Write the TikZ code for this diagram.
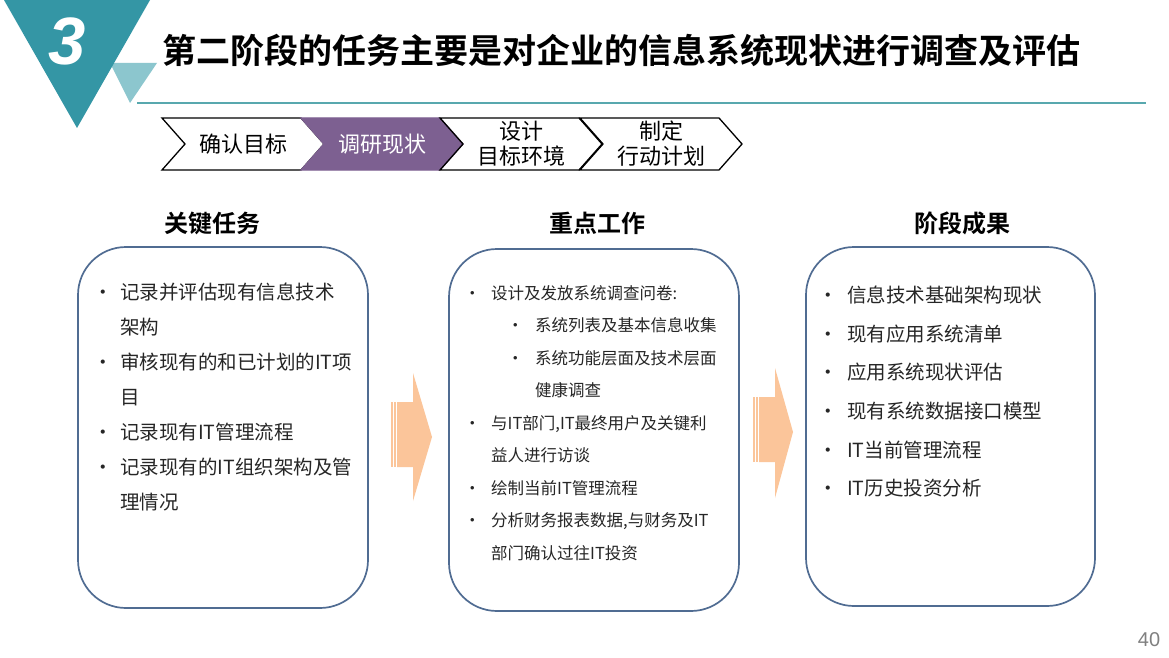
\documentclass[tikz,border=0pt]{standalone}
\usepackage{fontspec}
\setmainfont{Noto Sans CJK SC}[BoldFont={Noto Sans CJK SC Bold}]
\newfontfamily\numfont{Liberation Sans}
\usetikzlibrary{shapes.symbols}
\definecolor{stageteal}{RGB}{52,150,165}
\definecolor{lightteal}{RGB}{140,198,206}
\definecolor{ruleteal}{RGB}{88,168,174}
\definecolor{stagepurple}{RGB}{125,96,145}
\definecolor{boxblue}{RGB}{80,108,146}
\definecolor{flowarrow}{RGB}{251,197,154}
\definecolor{bodytext}{RGB}{38,38,38}
\newcommand\listdot[1]{\makebox[#1][l]{•}}

\begin{document}
\begin{tikzpicture}[x=1pt,y=-1pt,
    stepchevron/.style={signal, signal to=east, signal from=west, signal pointer angle=97,
        draw=black, line width=1.3pt, minimum width=162pt, minimum height=52pt,
        inner sep=0pt, align=center, font=\fontsize{22}{25}\selectfont},
    taskbox/.style={draw=boxblue, line width=1.7pt, rounded corners=48pt},
    colhead/.style={font=\fontsize{24}{28}\selectfont\bfseries, text=black},
    itemlist/.style={anchor=north west, inner sep=0pt, align=left, text=bodytext}]
    \useasboundingbox[fill=white] (0,0) rectangle (1169,658);

    % corner mark and title
    \fill[lightteal] (110,63) -- (157,63) -- (130,103) -- cycle;
    \fill[stageteal] (4,0) -- (150,0) -- (77,128) -- cycle;
    \node[text=white, font=\numfont\fontsize{67}{67}\selectfont\bfseries\itshape] (num) at (67,41) {3};
    \node[anchor=west, inner sep=0pt, font=\fontsize{34}{38}\selectfont\bfseries] (title) at (162,50)
        {第二阶段的任务主要是对企业的信息系统现状进行调查及评估};
    \draw[ruleteal, line width=1.8pt] (137,103) -- (1146,103);

    % steps
    \node[stepchevron] (confirm) at (243,144) {确认目标};
    \node[stepchevron, fill=stagepurple, draw=stagepurple, text=white] (survey) at (382,144) {调研现状};
    \node[stepchevron] (design) at (521,144) {设计\\目标环境};
    \node[stepchevron] (plan) at (661,144) {制定\\行动计划};

    % column headings
    \node[colhead] (taskhead) at (212,223) {关键任务};
    \node[colhead] (workhead) at (597,223) {重点工作};
    \node[colhead] (resulthead) at (962,223) {阶段成果};

    % boxes
    \draw[taskbox] (78,247) rectangle (368,608);
    \draw[taskbox] (449,249) rectangle (739,611);
    \draw[taskbox] (806,247) rectangle (1095,606);

    \node[itemlist, font=\fontsize{19.5}{35}\selectfont] (tasks) at (93,283)
        {\listdot{27pt}记录并评估现有信息技术\\
         \hspace*{27pt}架构\\
         \listdot{27pt}审核现有的和已计划的IT项\\
         \hspace*{27pt}目\\
         \listdot{27pt}记录现有IT管理流程\\
         \listdot{27pt}记录现有的IT组织架构及管\\
         \hspace*{27pt}理情况};
    \node[itemlist, font=\fontsize{16.5}{32.5}\selectfont] (works) at (464,285)
        {\listdot{27pt}设计及发放系统调查问卷:\\
         \hspace*{43pt}\listdot{28pt}系统列表及基本信息收集\\
         \hspace*{43pt}\listdot{28pt}系统功能层面及技术层面\\
         \hspace*{71pt}健康调查\\
         \listdot{27pt}与IT部门,IT最终用户及关键利\\
         \hspace*{27pt}益人进行访谈\\
         \listdot{27pt}绘制当前IT管理流程\\
         \listdot{27pt}分析财务报表数据,与财务及IT\\
         \hspace*{27pt}部门确认过往IT投资};
    \node[itemlist, font=\fontsize{19.5}{38.6}\selectfont] (results) at (818,286)
        {\listdot{29pt}信息技术基础架构现状\\
         \listdot{29pt}现有应用系统清单\\
         \listdot{29pt}应用系统现状评估\\
         \listdot{29pt}现有系统数据接口模型\\
         \listdot{29pt}IT当前管理流程\\
         \listdot{29pt}IT历史投资分析};

    % arrows between boxes
    \fill[flowarrow] (391,402) rectangle (392.5,467);
    \fill[flowarrow] (394,402) rectangle (395.5,467);
    \fill[flowarrow] (397,402) -- (413,402) -- (413,373) -- (432,437) -- (413,501) -- (413,467) -- (397,467) -- cycle;
    \fill[flowarrow] (753,397) rectangle (754.5,462);
    \fill[flowarrow] (756,397) rectangle (757.5,462);
    \fill[flowarrow] (759,397) -- (775,397) -- (775,368) -- (793,432) -- (775,498) -- (775,462) -- (759,462) -- cycle;

    \node[text=black!50, font=\numfont\fontsize{20}{24}\selectfont] (page) at (1149,640) {40};
\end{tikzpicture}
\end{document}
